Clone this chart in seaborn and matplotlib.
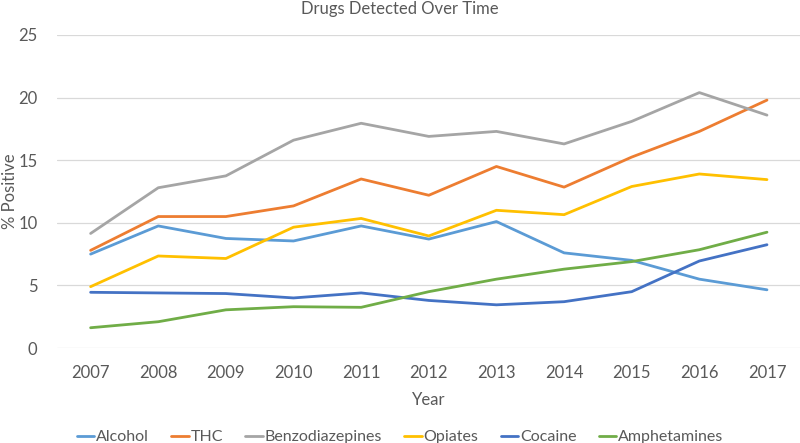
import matplotlib
matplotlib.use("Agg")
import matplotlib.pyplot as plt
import seaborn as sns
import pandas as pd

years = [2007, 2008, 2009, 2010, 2011, 2012, 2013, 2014, 2015, 2016, 2017]
alcohol = [7.5, 9.75, 8.75, 8.55, 9.75, 8.7, 10.1, 7.6, 7.0, 5.5, 4.65]
thc = [7.8, 10.5, 10.5, 11.35, 13.5, 12.2, 14.5, 12.85, 15.25, 17.3, 19.8]
benzodiazepines = [9.15, 12.8, 13.75, 16.6, 17.95, 16.9, 17.3, 16.3, 18.1, 20.4, 18.6]
opiates = [4.9, 7.35, 7.15, 9.65, 10.35, 8.95, 11.0, 10.65, 12.9, 13.9, 13.45]
cocaine = [4.45, 4.4, 4.35, 4.0, 4.4, 3.8, 3.45, 3.7, 4.5, 6.95, 8.25]
amphetamines = [1.62, 2.1, 3.05, 3.3, 3.25, 4.5, 5.5, 6.3, 6.9, 7.85, 9.25]

drugs = ["Alcohol", "THC", "Benzodiazepines", "Opiates", "Cocaine", "Amphetamines"]
colors = ["#5B9BD5", "#ED7D31", "#A5A5A5", "#FFC000", "#4472C4", "#70AD47"]
series = [alcohol, thc, benzodiazepines, opiates, cocaine, amphetamines]

rows = []
for name, vals in zip(drugs, series):
    for i, v in enumerate(vals):
        rows.append({"idx": i, "Year": years[i], "Drug": name, "Pct": v})
df = pd.DataFrame(rows)

sns.set_style("white")
plt.rcParams["font.family"] = ["Lato", "DejaVu Sans"]
grey = "#595959"

fig = plt.figure(figsize=(8, 4.43), dpi=100)
ax = fig.add_axes([0.071, 0.2144, 0.93, 0.7066])

sns.lineplot(data=df, x="idx", y="Pct", hue="Drug", hue_order=drugs,
             palette=colors, linewidth=2, ax=ax, legend=False)

ax.set_xlim(-0.5, 10.5)
ax.set_ylim(0, 25)
ax.set_yticks([0, 5, 10, 15, 20, 25])
ax.set_xticks(range(len(years)))
ax.set_xticklabels([str(y) for y in years])
ax.yaxis.grid(True, color="#D9D9D9", linewidth=0.9)
ax.xaxis.grid(False)
for s in ax.spines.values():
    s.set_visible(False)
ax.tick_params(axis="both", colors=grey, labelsize=12, length=0)
ax.tick_params(axis="x", pad=12)
ax.tick_params(axis="y", pad=14)
ax.set_xlabel("Year", fontsize=12, color=grey, labelpad=8)
ax.set_ylabel("% Positive", fontsize=12, color=grey)
ax.yaxis.set_label_coords(-0.052, 0.5)
fig.suptitle("Drugs Detected Over Time", fontsize=12, color=grey, y=0.998)

handles = [plt.Line2D([], [], color=c, linewidth=2) for c in colors]
fig.legend(handles, drugs, loc="lower center", ncol=6, frameon=False,
           bbox_to_anchor=(0.5, -0.035), fontsize=11.5, handlelength=1.1,
           handletextpad=0.1, columnspacing=1.4, labelcolor=grey)

fig.savefig("out.png", dpi=100)
